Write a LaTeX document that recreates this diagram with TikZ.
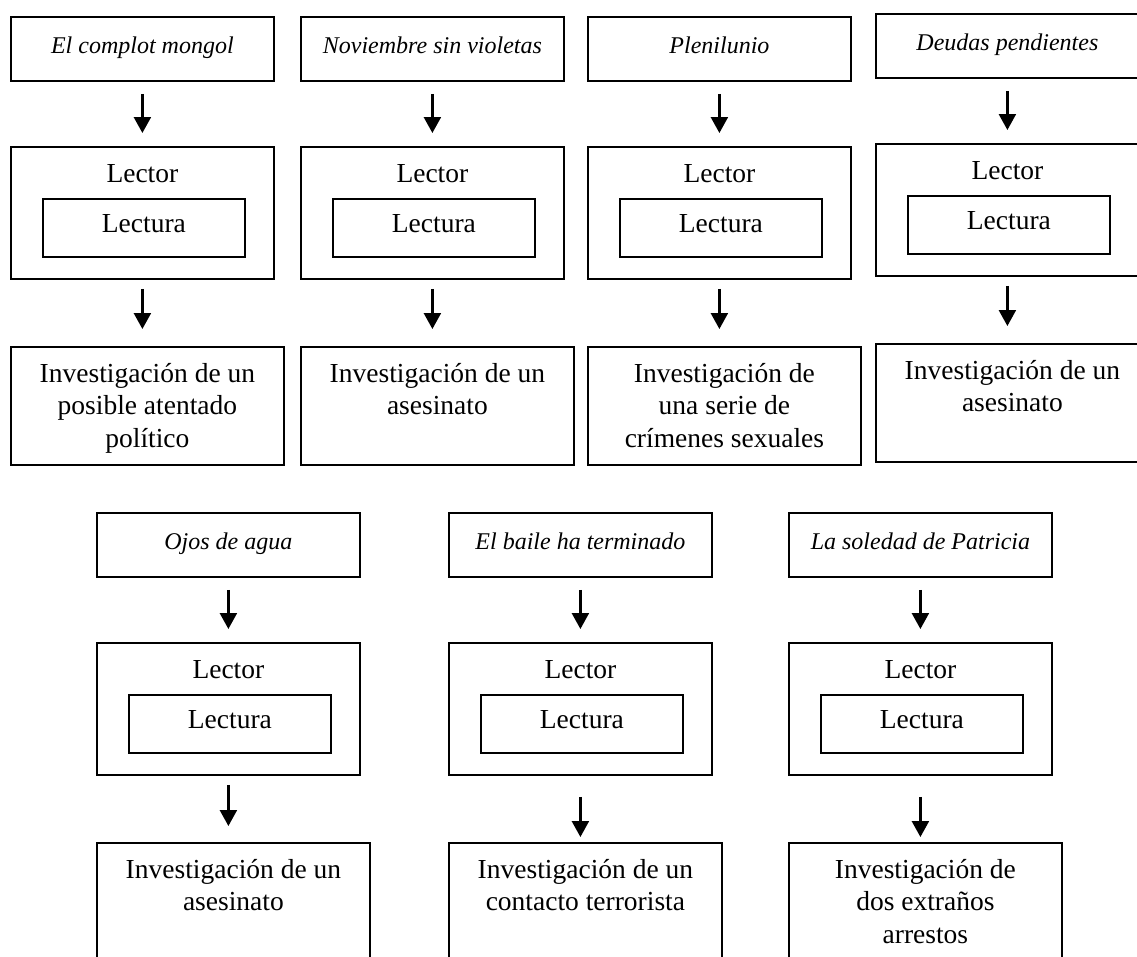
\documentclass[tikz,border=0pt]{standalone}
\usepackage{fontspec}
\setmainfont{Liberation Serif}
\usetikzlibrary{arrows.meta}

% One column: novel title -> reader/reading -> investigation
% #1 name prefix, #2 left x, #3 top y, #4 title, #5 outcome text,
% #6 shorten at start of lower arrow, #7 shorten at its end
\newcommand\novelcolumn[7]{%
  \node[titlebox] (#1t) at (#2,#3) {#4};
  \node[lectorbox] (#1l) at (#2,#3+130) {};
  \node[labeltext, anchor=base] (#1lt) at ([yshift=-36pt]#1l.north) {Lector};
  \node[readbox] (#1r) at (#2+32,#3+182) {Lectura};
  \node[outbox] (#1o) at (#2,#3+330) {};
  \node[labeltext, anchor=north, align=center] (#1ot) at ([yshift=-17pt]#1o.north) {#5};
  \draw[flow, shorten <=12pt, shorten >=13pt] (#1t.south) -- (#1l.north);
  \draw[flow, shorten <=#6, shorten >=#7] (#1l.south) -- (#1l.south |- #1o.north);
}

\begin{document}
\begin{tikzpicture}[x=1pt,y=-1pt,
  box/.style={draw, line width=1.8pt, inner sep=0pt, anchor=north west},
  titlebox/.style={box, minimum width=263pt, minimum height=64pt,
    font=\fontsize{24}{28}\selectfont\itshape, text height=16pt, text depth=6pt},
  lectorbox/.style={box, minimum width=263pt, minimum height=132pt},
  readbox/.style={box, minimum width=202pt, minimum height=58pt,
    font=\fontsize{27.5}{32.5}\selectfont, text height=17pt, text depth=7pt},
  outbox/.style={box, minimum width=273pt, minimum height=118pt},
  labeltext/.style={inner sep=0pt, font=\fontsize{27.5}{32.5}\selectfont},
  flow/.style={line width=2.4pt, -{Triangle[width=17pt,length=16pt]}}]

\useasboundingbox (0,0) rectangle (1137,956);

% upper row
\novelcolumn{a}{10}{16}{El complot mongol}{Investigación de un\\posible atentado\\político}{9pt}{17pt}
\novelcolumn{b}{300}{16}{Noviembre sin violetas}{Investigación de un\\asesinato}{9pt}{17pt}
\novelcolumn{c}{587}{16}{Plenilunio}{Investigación de\\una serie de\\crímenes sexuales}{9pt}{17pt}
\novelcolumn{d}{875}{13}{Deudas pendientes}{Investigación de un\\asesinato}{9pt}{17pt}

% lower row
\novelcolumn{e}{96}{512}{Ojos de agua}{Investigación de un\\asesinato}{9pt}{16pt}
\novelcolumn{f}{448}{512}{El baile ha terminado}{Investigación de un\\contacto terrorista}{21pt}{5pt}
\novelcolumn{g}{788}{512}{La soledad de Patricia}{Investigación de\\dos extraños\\arrestos}{21pt}{5pt}

\end{tikzpicture}
\end{document}
